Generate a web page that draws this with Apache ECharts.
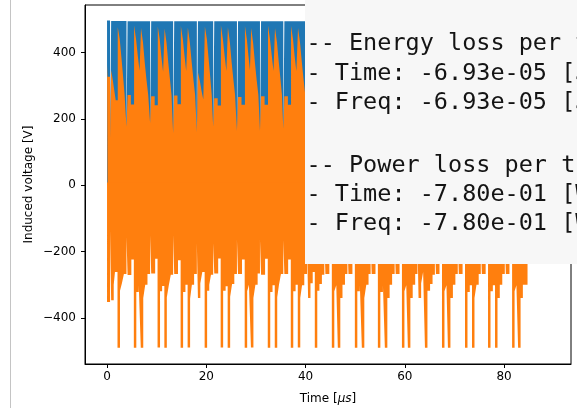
<!DOCTYPE html>
<html>
<head>
<meta charset="utf-8">
<script src="https://cdn.jsdelivr.net/npm/echarts@6/dist/echarts.min.js"></script>
<style>
  html, body { margin: 0; padding: 0; background: #fff; }
  #chart { width: 577px; height: 408px; }
</style>
</head>
<body>
<div id="chart"></div>
<script>
// ---- data (time in µs, voltage in V) ----
const xTicks = [0, 20, 40, 60, 80];
const yTicks = [-400, -200, 0, 200, 400];

// upper envelope of the blue trace (step breakpoints: value holds from t until next t)
const blueUpper = [
  [0,496],[0.61,120],[0.83,495],[3.92,150],[4.14,494],[8.68,160],[8.9,494],[13.32,135],[13.54,494],
  [18.1,140],[18.32,494],[21.39,150],[21.61,494],[26.18,140],[26.4,494],[30.82,140],[31.04,494],
  [35.52,145],[35.74,494],[40.3,140],[40.52,494],[43.79,150],[44.01,494],[48.44,150],[48.66,494],
  [53.12,150],[53.34,494],[57.96,150],[58.18,494],[62.56,140],[62.78,494],[66.07,150],[66.29,494],
  [70.68,150],[70.9,494],[75.32,150],[75.54,494],[80.16,150],[80.38,494],[88.9,494]
];

// upper envelope of the orange trace (step breakpoints)
const orangeUpper = [
  [0,362],[0.1,327],
  [0.61,140],[0.83,347],[1.15,318],[1.45,287],[1.75,256],[2.16,477],[2.56,440],[2.9,385],[3.25,325],[3.55,270],
  [3.92,176],[4.14,272],[4.8,243],[5.45,481],[5.85,440],[6.2,390],[6.55,345],[6.85,474],[7.25,430],[7.6,370],[7.95,318],[8.3,272],
  [8.68,187],[8.9,268],[9.6,241],[10.23,478],[10.63,438],[10.95,388],[11.3,342],[11.6,472],[12.0,428],[12.35,368],[12.7,316],[13.0,270],
  [13.32,157],[13.54,270],[14.2,244],[14.88,480],[15.28,440],[15.6,392],[15.95,344],[16.29,475],[16.69,430],[17.05,372],[17.4,320],[17.75,272],
  [18.1,160],[18.32,340],[18.7,315],[19.05,284],[19.4,258],[19.72,478],[20.12,440],[20.45,385],[20.8,325],[21.1,270],
  [21.39,176],[21.61,262],[22.3,240],[22.95,482],[23.35,440],[23.7,390],[24.05,344],[24.36,476],[24.76,430],[25.1,372],[25.45,320],[25.8,272],
  [26.18,164],[26.4,266],[27.1,242],[27.79,480],[28.19,438],[28.5,390],[28.8,346],[29.05,474],[29.45,428],[29.8,370],[30.15,318],[30.5,272],
  [30.82,164],[31.04,268],[31.75,242],[32.44,481],[32.84,440],[33.2,390],[33.55,344],[33.85,474],[34.25,430],[34.6,372],[34.95,320],[35.25,272],
  [35.52,170],[35.74,268],[36.45,242],[37.08,480],[37.48,440],[37.8,390],[38.15,344],[38.49,474],[38.89,430],[39.25,372],[39.6,320],[39.95,272],
  [40.3,160],[40.52,340],[41.2,290],[41.92,478],[42.32,446],[42.7,380],[43.1,320],[43.5,262],
  [43.79,170],[44.01,268],[44.7,242],[45.35,480],[45.75,444],[46.1,380],[46.56,474],[46.96,436],[47.35,370],[47.8,310],[48.2,262],
  [48.44,170],[48.66,268],[49.3,242],[49.99,480],[50.39,444],[50.8,380],[51.4,474],[51.8,436],[52.2,370],[52.6,310],[52.9,262],
  [53.12,170],[53.34,268],[54.0,242],[54.63,480],[55.03,444],[55.5,380],[56.04,474],[56.44,436],[56.85,370],[57.3,310],[57.7,262],
  [57.96,170],[58.18,268],[58.8,242],[59.48,480],[59.88,444],[60.3,380],[60.68,474],[61.08,436],[61.5,370],[61.9,310],[62.3,262],
  [62.56,160],[62.78,340],[63.4,290],[64.12,478],[64.52,446],[64.9,380],[65.3,320],[65.75,262],
  [66.07,170],[66.29,268],[66.9,242],[67.55,480],[67.95,444],[68.35,380],[68.75,474],[69.15,436],[69.6,370],[70.0,310],[70.4,262],
  [70.68,170],[70.9,268],[71.5,242],[72.19,480],[72.59,444],[73.0,380],[73.6,474],[74.0,436],[74.4,370],[74.8,310],[75.1,262],
  [75.32,170],[75.54,268],[76.2,242],[76.83,480],[77.23,444],[77.65,380],[78.24,474],[78.64,436],[79.05,370],[79.5,310],[79.9,262],
  [80.16,170],[80.38,268],[81.0,242],[81.68,480],[82.08,444],[82.5,380],[82.89,474],[83.29,436],[83.7,370],[84.2,310],[84.74,310]
];

// lower envelope of the orange trace (step breakpoints)
const orangeLower = [
  [0,-352],[0.61,-135],[0.83,-347],[1.35,-300],[1.6,-262],[2.11,-490],[2.61,-318],[3.0,-296],[3.4,-268],
  [3.92,-156],[4.14,-271],[4.9,-224],[5.4,-490],[5.9,-322],[6.4,-302],[6.8,-490],[7.3,-340],[7.7,-300],[8.15,-268],
  [8.68,-152],[8.9,-266],[9.7,-222],[10.18,-489],[10.68,-320],[11.1,-304],[11.55,-490],[12.05,-338],[12.45,-302],[12.85,-270],
  [13.32,-150],[13.54,-268],[14.3,-226],[14.83,-490],[15.33,-322],[15.8,-300],[16.24,-489],[16.74,-342],[17.1,-300],[17.55,-268],
  [18.1,-175],[18.32,-340],[18.8,-296],[19.2,-262],[19.67,-490],[20.17,-318],[20.6,-300],[20.95,-270],
  [21.39,-175],[21.61,-266],[22.4,-221],[22.9,-489],[23.4,-318],[23.9,-305],[24.31,-490],[24.81,-336],[25.2,-298],[25.65,-268],
  [26.18,-164],[26.4,-268],[27.2,-224],[27.74,-490],[28.24,-320],[28.6,-300],[29.0,-489],[29.5,-340],[29.9,-300],[30.35,-266],
  [30.82,-164],[31.04,-270],[31.85,-222],[32.39,-490],[32.89,-322],[33.35,-302],[33.8,-490],[34.3,-338],[34.65,-300],[35.05,-268],
  [35.52,-165],[35.74,-268],[36.5,-224],[37.03,-490],[37.53,-320],[38.0,-300],[38.44,-489],[38.94,-340],[39.3,-302],[39.75,-268],
  [40.3,-170],[40.52,-340],[41.0,-296],[41.45,-262],[41.87,-490],[42.37,-318],[42.8,-298],[43.3,-270],
  [43.79,-168],[44.01,-268],[44.8,-224],[45.3,-490],[45.8,-320],[46.2,-302],[46.51,-490],[47.01,-340],[47.45,-300],[47.95,-268],
  [48.44,-168],[48.66,-268],[49.45,-224],[49.94,-490],[50.44,-320],[50.95,-302],[51.35,-490],[51.85,-340],[52.25,-300],[52.7,-268],
  [53.12,-168],[53.34,-268],[54.1,-224],[54.58,-490],[55.08,-322],[55.6,-302],[55.99,-490],[56.49,-340],[56.95,-300],[57.45,-268],
  [57.96,-168],[58.18,-268],[58.95,-224],[59.43,-490],[59.93,-320],[60.3,-302],[60.63,-490],[61.13,-340],[61.6,-300],[62.1,-268],
  [62.56,-170],[62.78,-340],[63.3,-296],[63.7,-262],[64.07,-490],[64.57,-318],[65.1,-298],[65.6,-270],
  [66.07,-168],[66.29,-268],[67.0,-224],[67.5,-490],[68.0,-320],[68.4,-302],[68.7,-490],[69.2,-340],[69.7,-300],[70.2,-268],
  [70.68,-168],[70.9,-268],[71.65,-224],[72.14,-490],[72.64,-322],[73.1,-302],[73.55,-490],[74.05,-340],[74.45,-300],[74.9,-268],
  [75.32,-168],[75.54,-268],[76.3,-224],[76.78,-490],[77.28,-320],[77.75,-302],[78.19,-490],[78.69,-340],[79.15,-300],[79.65,-268],
  [80.16,-168],[80.38,-268],[81.1,-224],[81.63,-490],[82.13,-320],[82.5,-302],[82.84,-490],[83.34,-340],[83.8,-300],[84.74,-300]
];

// overlay text (output box)
const boxLines = [
  '-- Energy loss per turn',
  '- Time: -6.93e-05 [J]',
  '- Freq: -6.93e-05 [J]',
  '',
  '-- Power loss per turn',
  '- Time: -7.80e-01 [W]',
  '- Freq: -7.80e-01 [W]'
];
const boxBaselines = [51.7, 81, 110, 0, 173.3, 202.3, 231];

// step breakpoints -> polyline with vertical risers (same values, no new ones)
function toSteps(pts) {
  const out = [];
  for (let i = 0; i < pts.length; i++) {
    if (i > 0) out.push([pts[i][0], pts[i - 1][1]]);
    out.push([pts[i][0], pts[i][1]]);
  }
  return out;
}

// ---- chart ----
const BLUE = '#1f77b4', ORANGE = '#ff7f0e';
const chart = echarts.init(document.getElementById('chart'), null, { renderer: 'canvas' });

const tickFont = { fontFamily: 'DejaVu Sans', fontSize: 12, color: '#000' };

const monoSize = 23.5;
const textEls = [];
boxLines.forEach((s, i) => {
  if (!s) return;
  textEls.push({
    type: 'text', x: 306.5, y: boxBaselines[i] - 0.32 * monoSize, z: 101,
    style: { text: s, fill: '#141414', font: monoSize + 'px "DejaVu Sans Mono"', verticalAlign: 'middle', align: 'left' }
  });
});

const option = {
  animation: false,
  backgroundColor: '#fff',
  grid: { left: 85, right: 6, top: 5, bottom: 44, show: true, borderColor: '#000', borderWidth: 1,
    backgroundColor: 'transparent', containLabel: false, outerBoundsMode: 'none' },
  xAxis: {
    type: 'value', min: -4.44, max: 93.5,
    name: 'Time [{i|μs}]', nameLocation: 'middle', nameGap: 29, nameMoveOverlap: false,
    nameTextStyle: { fontFamily: 'DejaVu Sans', fontSize: 12, color: '#000',
      rich: { i: { fontFamily: 'DejaVu Sans', fontStyle: 'italic', fontSize: 12, color: '#000' } } },
    axisLine: { show: true, onZero: false, lineStyle: { color: '#000', width: 1 } },
    axisTick: { show: true, length: 4, lineStyle: { color: '#000', width: 1 }, customValues: xTicks },
    axisLabel: Object.assign({ margin: 7, customValues: xTicks }, tickFont),
    splitLine: { show: false }
  },
  yAxis: {
    type: 'value', min: -539, max: 543,
    name: 'Induced voltage [V]', nameLocation: 'middle', nameGap: 50, nameMoveOverlap: false,
    nameTextStyle: { fontFamily: 'DejaVu Sans', fontSize: 12, color: '#000' },
    axisLine: { show: true, onZero: false, lineStyle: { color: '#000', width: 1 } },
    axisTick: { show: true, length: 4, lineStyle: { color: '#000', width: 1 }, customValues: yTicks },
    axisLabel: Object.assign({ margin: 9, customValues: yTicks,
      formatter: v => (v < 0 ? '\u2212' + Math.abs(v) : String(v)) }, tickFont),
    splitLine: { show: false }
  },
  series: [
    { type: 'line', name: 'blue', data: toSteps(blueUpper), symbol: 'none', silent: true,
      lineStyle: { width: 0, color: BLUE }, areaStyle: { color: BLUE, opacity: 1 }, itemStyle: { color: BLUE } },
    { type: 'line', name: 'orangeU', data: toSteps(orangeUpper), symbol: 'none', silent: true,
      lineStyle: { width: 0, color: ORANGE }, areaStyle: { color: ORANGE, opacity: 1, origin: -8 }, itemStyle: { color: ORANGE } },
    { type: 'line', name: 'orangeL', data: toSteps(orangeLower), symbol: 'none', silent: true,
      lineStyle: { width: 0, color: ORANGE }, areaStyle: { color: ORANGE, opacity: 1, origin: 8 }, itemStyle: { color: ORANGE } }
  ],
  graphic: [
    { type: 'line', z: 100, shape: { x1: 10.5, y1: 0, x2: 10.5, y2: 408 }, style: { stroke: '#c4c4c4', lineWidth: 1 } },
    { type: 'rect', z: 100, shape: { x: 305, y: 0, width: 272, height: 264 }, style: { fill: '#f7f7f7' } }
  ].concat(textEls)
};
chart.setOption(option);
</script>
</body>
</html>
